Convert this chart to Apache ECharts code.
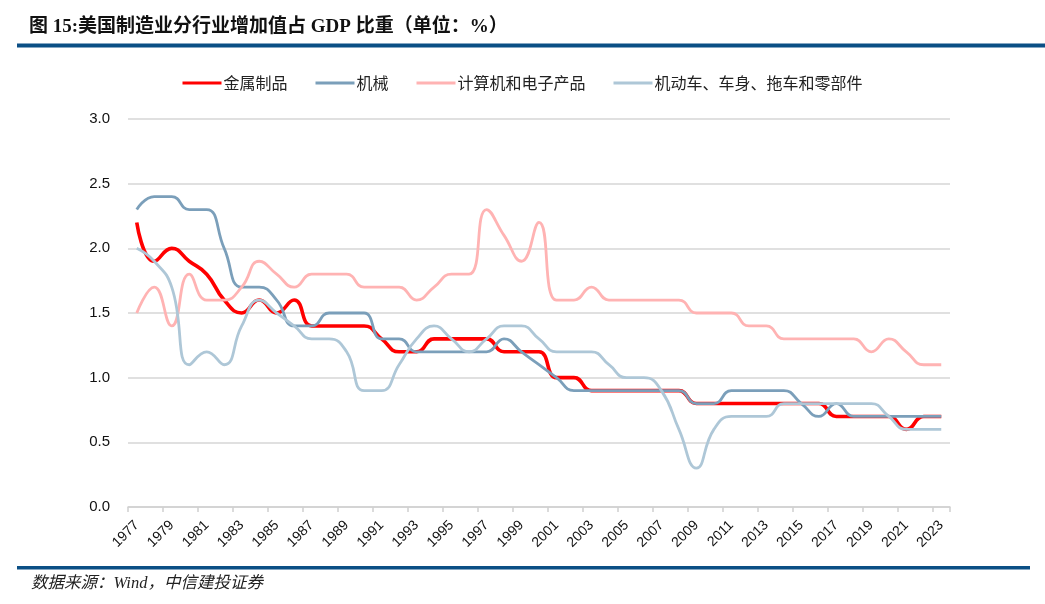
<!DOCTYPE html>
<html>
<head>
<meta charset="utf-8">
<script src="https://cdn.jsdelivr.net/npm/echarts@6/dist/echarts.min.js"></script>
<style>
html,body{margin:0;padding:0;background:#fff;}
#chart{width:1045px;height:604px;}
</style>
</head>
<body>
<div id="chart"></div>
<script>
const years = [];
for (let y = 1977; y <= 2023; y++) years.push(String(y));

const seriesNames = ['金属制品', '机械', '计算机和电子产品', '机动车、车身、拖车和零部件'];

const metalProducts = [2.2,1.9,2.0,1.9,1.8,1.6,1.5,1.6,1.5,1.6,
  1.4,1.4,1.4,1.4,1.3,1.2,1.2,1.3,1.3,1.3,
  1.3,1.2,1.2,1.2,1.0,1.0,0.9,0.9,0.9,0.9,
  0.9,0.9,0.8,0.8,0.8,0.8,0.8,0.8,0.8,0.8,
  0.7,0.7,0.7,0.7,0.6,0.7,0.7];

const machinery = [2.3,2.4,2.4,2.3,2.3,2.0,1.7,1.7,1.6,1.4,
  1.4,1.5,1.5,1.5,1.3,1.3,1.2,1.2,1.2,1.2,
  1.2,1.3,1.2,1.1,1.0,0.9,0.9,0.9,0.9,0.9,
  0.9,0.9,0.8,0.8,0.9,0.9,0.9,0.9,0.8,0.7,
  0.8,0.7,0.7,0.7,0.7,0.7,0.7];

const computerElectronics = [1.5,1.7,1.4,1.8,1.6,1.6,1.7,1.9,1.8,1.7,
  1.8,1.8,1.8,1.7,1.7,1.7,1.6,1.7,1.8,1.8,
  2.3,2.1,1.9,2.2,1.6,1.6,1.7,1.6,1.6,1.6,
  1.6,1.6,1.5,1.5,1.5,1.4,1.4,1.3,1.3,1.3,
  1.3,1.3,1.2,1.3,1.2,1.1,1.1];

const motorVehicles = [2.0,1.9,1.7,1.1,1.2,1.1,1.4,1.6,1.5,1.4,
  1.3,1.3,1.2,0.9,0.9,1.1,1.3,1.4,1.3,1.2,
  1.3,1.4,1.4,1.3,1.2,1.2,1.2,1.1,1.0,1.0,
  0.9,0.6,0.3,0.6,0.7,0.7,0.7,0.8,0.8,0.8,
  0.8,0.8,0.8,0.7,0.6,0.6,0.6];

const yTicks = ['0.0','0.5','1.0','1.5','2.0','2.5','3.0'];

const colors = ['#ff0000', '#7b9fba', '#ffb3b3', '#aec7d7'];
const widths = [3.6, 2.8, 2.8, 2.8];
const dataSets = [metalProducts, machinery, computerElectronics, motorVehicles];

const chart = echarts.init(document.getElementById('chart'), null, {renderer: 'canvas'});

const option = {
  animation: false,
  backgroundColor: '#fff',
  color: colors,
  textStyle: {fontFamily: 'Liberation Sans, Noto Sans CJK SC, sans-serif'},
  legend: {
    top: 70,
    left: 'center',
    itemWidth: 39,
    itemHeight: 3,
    itemGap: 28,
    icon: 'rect',
    textStyle: {fontSize: 16, color: '#222', fontFamily: 'Noto Sans CJK SC, sans-serif', padding: [0,0,0,-3]},
    data: seriesNames
  },
  grid: {left: 128, right: 95, top: 119, bottom: 97, containLabel: false},
  xAxis: {
    type: 'category',
    data: years,
    boundaryGap: true,
    axisLine: {show: true, lineStyle: {color: '#d0d0d0', width: 1.5}},
    axisTick: {show: true, interval: 1, length: 5, lineStyle: {color: '#d0d0d0', width: 1.5}},
    axisLabel: {interval: 1, rotate: 45, fontSize: 14, color: '#111', margin: 16, fontFamily: 'Liberation Sans, Arial, sans-serif'},
    splitLine: {show: false}
  },
  yAxis: {
    type: 'value',
    min: 0,
    max: 3,
    interval: 0.5,
    axisLine: {show: false},
    axisTick: {show: false},
    axisLabel: {
      fontSize: 15, color: '#111', margin: 18, fontFamily: 'Liberation Sans, Arial, sans-serif',
      formatter: function (v) { return yTicks[Math.round(v / 0.5)]; }
    },
    splitLine: {lineStyle: {color: '#d6d6d6', width: 1.5}}
  },
  series: seriesNames.map((n, i) => ({
    name: n,
    type: 'line',
    data: dataSets[i],
    smooth: 0.5,
    symbol: 'none',
    lineStyle: {color: colors[i], width: widths[i]},
    itemStyle: {color: colors[i]},
    z: 2 + i
  })),
  graphic: [
    {type: 'text', left: 29, top: 18, style: {text: '图 15:美国制造业分行业增加值占 GDP 比重（单位：%）', font: 'bold 19px "Liberation Serif", "Noto Sans CJK SC", serif', fill: '#111'}},
    {type: 'rect', shape: {x: 17, y: 43.5, width: 1028, height: 4}, style: {fill: '#0b4f85'}},
    {type: 'rect', shape: {x: 17, y: 566, width: 1013, height: 3.5}, style: {fill: '#0b4f85'}},
    {type: 'text', left: 31, top: 575, style: {text: '数据来源：Wind，中信建投证券', font: 'italic 16.5px "Liberation Serif", "Noto Sans CJK SC", serif', fill: '#222'}}
  ]
};
chart.setOption(option);
</script>
</body>
</html>
